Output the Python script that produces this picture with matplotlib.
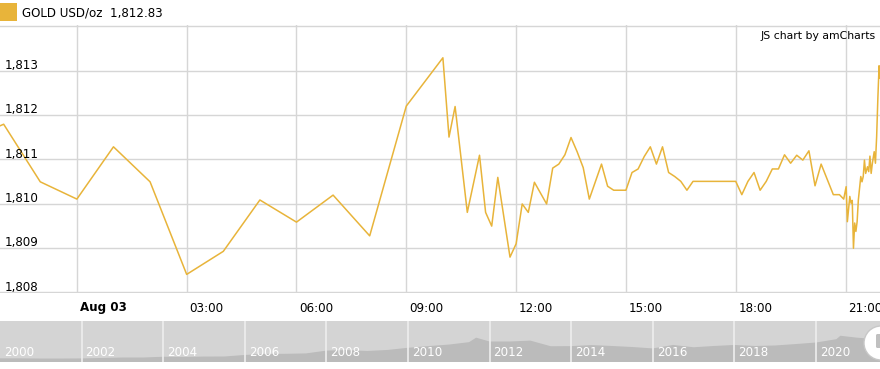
import matplotlib
matplotlib.use("Agg")
import matplotlib.pyplot as plt
import matplotlib.dates as mdates
import matplotlib.transforms as mtransforms
from matplotlib.patches import Circle, FancyBboxPatch, Rectangle
import pandas as pd

series_name = "GOLD USD/oz"
last_price = "1,812.83"
credit = "JS chart by amCharts"

# intraday quotes (2021, month-day time)
times = [
    "08-02 21:00", "08-02 22:00", "08-02 23:00", "08-03 00:00", "08-03 01:00",
    "08-03 02:00", "08-03 03:00", "08-03 04:00", "08-03 05:00", "08-03 06:00",
    "08-03 07:00", "08-03 08:00", "08-03 09:00", "08-03 10:00", "08-03 10:10",
    "08-03 10:20", "08-03 10:40", "08-03 11:00", "08-03 11:10", "08-03 11:20",
    "08-03 11:30", "08-03 11:50", "08-03 12:00", "08-03 12:10", "08-03 12:20",
    "08-03 12:30", "08-03 12:50", "08-03 13:00", "08-03 13:10", "08-03 13:20",
    "08-03 13:30", "08-03 13:40", "08-03 13:50", "08-03 14:00", "08-03 14:20",
    "08-03 14:30", "08-03 14:40", "08-03 14:50", "08-03 15:00", "08-03 15:10",
    "08-03 15:20", "08-03 15:30", "08-03 15:40", "08-03 15:50", "08-03 16:00",
    "08-03 16:10", "08-03 16:20", "08-03 16:30", "08-03 16:40", "08-03 16:50",
    "08-03 17:00", "08-03 17:10", "08-03 17:20", "08-03 17:30", "08-03 17:40",
    "08-03 17:50", "08-03 18:00", "08-03 18:10", "08-03 18:20", "08-03 18:30",
    "08-03 18:40", "08-03 18:50", "08-03 19:00", "08-03 19:10", "08-03 19:20",
    "08-03 19:30", "08-03 19:40", "08-03 19:50", "08-03 20:00", "08-03 20:10",
    "08-03 20:20", "08-03 20:40", "08-03 20:50", "08-03 20:57", "08-03 21:01",
    "08-03 21:03", "08-03 21:07", "08-03 21:09", "08-03 21:11", "08-03 21:13",
    "08-03 21:15", "08-03 21:17", "08-03 21:19", "08-03 21:21", "08-03 21:25",
    "08-03 21:27", "08-03 21:29", "08-03 21:31", "08-03 21:33", "08-03 21:36",
    "08-03 21:38", "08-03 21:40", "08-03 21:42", "08-03 21:44", "08-03 21:47",
    "08-03 21:49", "08-03 21:51", "08-03 21:53", "08-03 21:55", "08-03 21:56",
]
prices = [
    1811.43, 1811.79, 1810.49, 1810.10, 1811.28,
    1810.49, 1808.40, 1808.92, 1810.08, 1809.58,
    1810.19, 1809.27, 1812.20, 1813.29, 1811.50,
    1812.19, 1809.80, 1811.09, 1809.80, 1809.49,
    1810.59, 1808.79, 1809.09, 1809.99, 1809.80,
    1810.48, 1809.99, 1810.80, 1810.89, 1811.10,
    1811.49, 1811.17, 1810.81, 1810.10, 1810.89,
    1810.39, 1810.30, 1810.30, 1810.30, 1810.70,
    1810.78, 1811.06, 1811.28, 1810.89, 1811.28,
    1810.70, 1810.61, 1810.50, 1810.30, 1810.50,
    1810.50, 1810.50, 1810.50, 1810.50, 1810.50,
    1810.50, 1810.50, 1810.20, 1810.50, 1810.70,
    1810.30, 1810.50, 1810.78, 1810.78, 1811.10,
    1810.91, 1811.09, 1810.98, 1811.19, 1810.40,
    1810.89, 1810.20, 1810.20, 1810.10, 1810.38,
    1809.59, 1810.16, 1810.01, 1810.07, 1808.99,
    1809.56, 1809.37, 1809.59, 1810.08, 1810.61,
    1810.49, 1810.61, 1810.98, 1810.68, 1810.83,
    1810.72, 1811.07, 1810.68, 1810.91, 1811.17,
    1810.91, 1811.51, 1812.38, 1813.11, 1812.83,
]

x_tick_times = ["08-03 00:00", "08-03 03:00", "08-03 06:00", "08-03 09:00",
                "08-03 12:00", "08-03 15:00", "08-03 18:00", "08-03 21:00"]
x_tick_labels = ["Aug 03", "03:00", "06:00", "09:00", "12:00", "15:00", "18:00", "21:00"]
y_ticks = [1808, 1809, 1810, 1811, 1812, 1813, 1814]
y_tick_labels = ["1,808", "1,809", "1,810", "1,811", "1,812", "1,813"]

# long history shown in the scrollbar
hist_years = [2000.0, 2000.5, 2001.0, 2001.5, 2002.0, 2002.5, 2003.0, 2003.5, 2004.0, 2004.5,
              2005.0, 2005.5, 2006.0, 2006.5, 2007.0, 2007.5, 2008.0, 2008.5, 2009.0, 2009.5,
              2010.0, 2010.5, 2011.0, 2011.5, 2011.67, 2012.0, 2012.5, 2013.0, 2013.5, 2014.0,
              2014.5, 2015.0, 2015.5, 2016.0, 2016.5, 2017.0, 2017.5, 2018.0, 2018.5, 2019.0,
              2019.5, 2020.0, 2020.5, 2020.6, 2021.0, 2021.5, 2021.6]
hist_prices = [285, 285, 270, 270, 280, 315, 350, 350, 410, 395,
               425, 430, 550, 630, 640, 670, 890, 930, 860, 940,
               1110, 1240, 1360, 1550, 1900, 1600, 1600, 1670, 1230, 1240,
               1320, 1250, 1170, 1060, 1330, 1150, 1250, 1330, 1250, 1290,
               1400, 1520, 1780, 2050, 1900, 1780, 1812]
scroll_years = [2000, 2002, 2004, 2006, 2008, 2010, 2012, 2014, 2016, 2018, 2020]

gold = "#e8b43a"
grid_c = "#d6d6d6"

W, H = 880, 369


def fbox(x0, y0, x1, y1):
    return [x0 / W, 1 - y1 / H, (x1 - x0) / W, (y1 - y0) / H]


def to_num(s):
    return mdates.date2num(pd.to_datetime(["2021-" + v for v in s]))


plt.rcParams["font.family"] = "DejaVu Sans"
fig = plt.figure(figsize=(W / 100, H / 100), dpi=100)

# main price chart
ax = fig.add_axes(fbox(0, 25, 880, 293))
t = to_num(times)
ax.plot(t, prices, color=gold, lw=1.1, zorder=3)
ax.set_xlim(mdates.date2num(pd.Timestamp("2021-08-02 21:54")),
            mdates.date2num(pd.Timestamp("2021-08-03 21:56:30")))
ax.set_ylim(1807.98, 1814.03)
xt = to_num(x_tick_times)
ax.set_xticks(xt)
ax.set_yticks(y_ticks)
ax.grid(True, color=grid_c, lw=1.0)
ax.tick_params(length=0, labelbottom=False, labelleft=False)
for s in ax.spines.values():
    s.set_visible(False)

xtrans = mtransforms.blended_transform_factory(ax.transData, ax.transAxes)
for i, (xv, lbl) in enumerate(zip(xt, x_tick_labels)):
    ax.annotate(lbl, xy=(xv, 0), xycoords=xtrans, xytext=(3, -15), textcoords="offset pixels",
                ha="left", va="center", fontsize=8.6, color="#000000",
                fontweight="bold" if i == 0 else "normal", annotation_clip=False)

ytrans = mtransforms.blended_transform_factory(ax.transAxes, ax.transData)
for yv, lbl in zip(y_ticks, y_tick_labels):
    ax.annotate(lbl, xy=(0, yv), xycoords=ytrans, xytext=(5, 1.5), textcoords="offset pixels",
                ha="left", va="baseline", fontsize=8.6, color="#000000")

# scrollbar with long history
sb = fig.add_axes(fbox(0, 321, 880, 362))
sb.set_facecolor("#d4d4d4")
sb.fill_between(hist_years, hist_prices, 0, color="#bbbbbb", lw=0)
sb.set_xlim(2000, 2021.57)
sb.set_ylim(0, 3200)
sb.set_xticks([])
sb.set_yticks([])
for s in sb.spines.values():
    s.set_visible(False)
for yr in scroll_years:
    if yr > 2000:
        sb.axvline(yr, color="#eeeeee", lw=1.2)
    sb.annotate(str(yr), xy=(yr, 0), xytext=(4, 10), textcoords="offset pixels",
                ha="left", va="center", fontsize=8.6, color="white")

# overlay: legend, credit, scrollbar grip
ov = fig.add_axes([0, 0, 1, 1], facecolor="none")
ov.set_xlim(0, W)
ov.set_ylim(H, 0)
ov.axis("off")
ov.add_patch(Rectangle((0, 3), 17, 18, color=gold, lw=0))
ov.text(22, 13, f"{series_name}  {last_price}", ha="left", va="center",
        fontsize=8.6, color="#000000")
ov.text(876, 36, credit, ha="right", va="center", fontsize=7.8, color="#000000")
ov.add_patch(Circle((881, 343), 17, facecolor="white", edgecolor="#c8c8c8", lw=1.0))
ov.add_patch(FancyBboxPatch((876, 334), 6, 14, boxstyle="round,pad=0,rounding_size=1.5",
                            facecolor="#c0c0c0", lw=0))

fig.savefig("out.png", dpi=100)
